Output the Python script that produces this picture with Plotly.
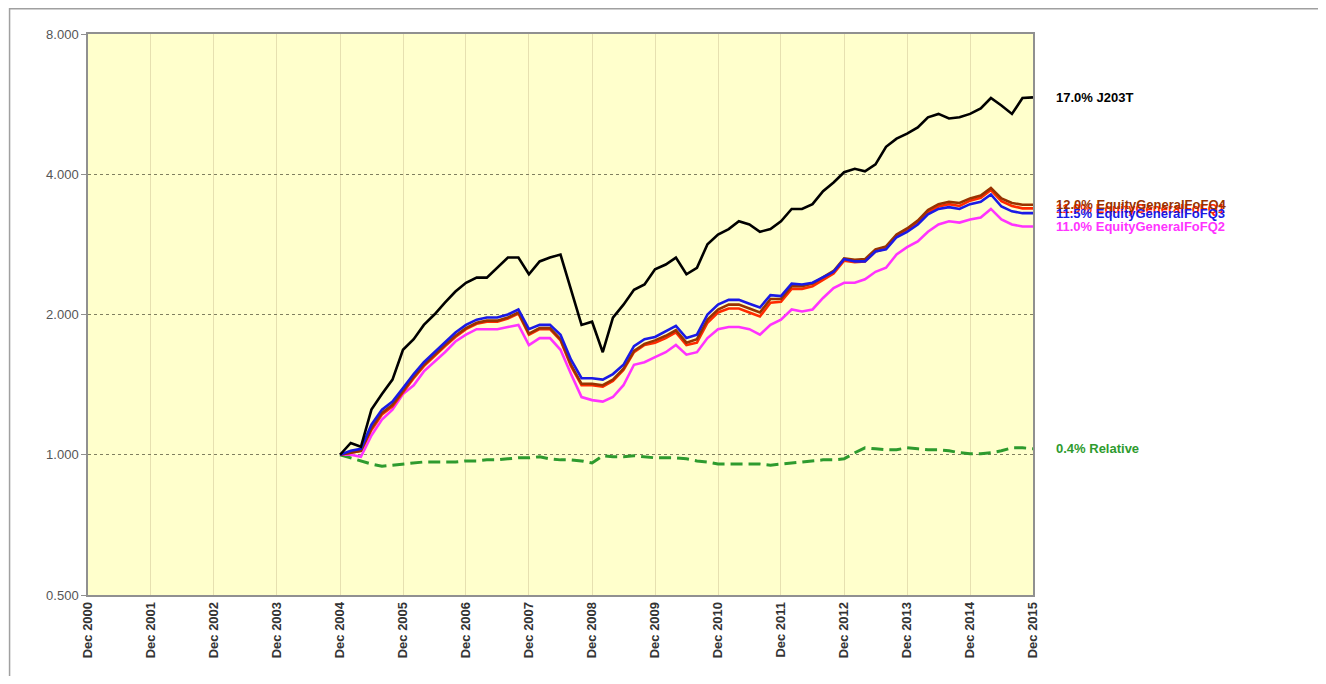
import math

import plotly.graph_objects as go

# Datas (bimestrais, Dez/2004 a Dez/2015)
datas = [f"{2004 + (11 + 2 * i) // 12}-{(11 + 2 * i) % 12 + 1:02d}-01" for i in range(67)]

j203t = [1.00, 1.06, 1.04, 1.25, 1.35, 1.45, 1.68, 1.77, 1.90, 2.00, 2.12, 2.24,
         2.34, 2.40, 2.40, 2.52, 2.65, 2.65, 2.44, 2.60, 2.65, 2.69, 2.26, 1.90,
         1.93, 1.66, 1.97, 2.10, 2.26, 2.32, 2.50, 2.56, 2.65, 2.44, 2.52, 2.83,
         2.97, 3.05, 3.17, 3.12, 3.01, 3.05, 3.17, 3.37, 3.37, 3.45, 3.68, 3.84,
         4.04, 4.11, 4.06, 4.20, 4.58, 4.77, 4.89, 5.04, 5.30, 5.39, 5.27, 5.30,
         5.39, 5.54, 5.83, 5.62, 5.39, 5.83, 5.85]

fof_q3 = [1.00, 1.02, 1.03, 1.16, 1.25, 1.30, 1.39, 1.49, 1.58, 1.66, 1.75, 1.83,
          1.90, 1.95, 1.97, 1.97, 2.00, 2.05, 1.86, 1.90, 1.90, 1.81, 1.60, 1.46,
          1.46, 1.45, 1.49, 1.56, 1.71, 1.77, 1.79, 1.84, 1.89, 1.78, 1.81, 2.00,
          2.10, 2.15, 2.15, 2.11, 2.07, 2.20, 2.19, 2.33, 2.32, 2.34, 2.40, 2.47,
          2.63, 2.60, 2.60, 2.73, 2.76, 2.93, 3.01, 3.12, 3.28, 3.37, 3.40, 3.37,
          3.45, 3.49, 3.62, 3.41, 3.33, 3.30, 3.30]

fof_q2 = [1.00, 1.00, 0.99, 1.10, 1.19, 1.25, 1.35, 1.41, 1.51, 1.58, 1.66, 1.75,
          1.81, 1.86, 1.86, 1.86, 1.88, 1.90, 1.72, 1.78, 1.78, 1.68, 1.49, 1.33,
          1.31, 1.30, 1.33, 1.41, 1.56, 1.58, 1.62, 1.66, 1.72, 1.64, 1.66, 1.78,
          1.86, 1.88, 1.88, 1.86, 1.81, 1.90, 1.95, 2.05, 2.03, 2.05, 2.17, 2.28,
          2.34, 2.34, 2.38, 2.47, 2.52, 2.69, 2.79, 2.87, 3.01, 3.12, 3.17, 3.15,
          3.20, 3.23, 3.37, 3.20, 3.12, 3.09, 3.09]

fof_q1 = [1.00, 1.01, 1.02, 1.13, 1.22, 1.27, 1.36, 1.46, 1.55, 1.63, 1.71, 1.79,
          1.86, 1.91, 1.93, 1.93, 1.96, 2.01, 1.81, 1.86, 1.86, 1.76, 1.55, 1.41,
          1.41, 1.40, 1.44, 1.52, 1.66, 1.72, 1.74, 1.78, 1.83, 1.72, 1.74, 1.92,
          2.02, 2.06, 2.06, 2.02, 1.98, 2.12, 2.13, 2.27, 2.27, 2.30, 2.37, 2.45,
          2.61, 2.59, 2.60, 2.73, 2.77, 2.95, 3.03, 3.15, 3.31, 3.41, 3.45, 3.42,
          3.51, 3.56, 3.70, 3.50, 3.42, 3.38, 3.38]

fof_q4 = [1.00, 1.01, 1.02, 1.14, 1.23, 1.28, 1.37, 1.47, 1.56, 1.64, 1.72, 1.80,
          1.87, 1.92, 1.94, 1.94, 1.97, 2.02, 1.82, 1.87, 1.87, 1.77, 1.56, 1.42,
          1.42, 1.41, 1.45, 1.53, 1.67, 1.73, 1.76, 1.80, 1.85, 1.74, 1.77, 1.95,
          2.05, 2.10, 2.10, 2.06, 2.02, 2.16, 2.16, 2.30, 2.30, 2.33, 2.40, 2.48,
          2.64, 2.62, 2.63, 2.76, 2.80, 2.97, 3.06, 3.18, 3.35, 3.45, 3.49, 3.47,
          3.55, 3.60, 3.74, 3.55, 3.47, 3.44, 3.44]

relativo = [1.00, 0.985, 0.97, 0.955, 0.945, 0.95, 0.955, 0.96, 0.965, 0.965, 0.965, 0.965,
            0.97, 0.97, 0.975, 0.975, 0.98, 0.985, 0.985, 0.99, 0.98, 0.975, 0.975, 0.97,
            0.96, 0.995, 0.99, 0.99, 0.995, 0.99, 0.985, 0.985, 0.985, 0.98, 0.97, 0.965,
            0.955, 0.955, 0.955, 0.955, 0.955, 0.95, 0.955, 0.96, 0.965, 0.97, 0.975, 0.975,
            0.98, 1.01, 1.035, 1.03, 1.025, 1.025, 1.035, 1.03, 1.025, 1.025, 1.02, 1.01,
            1.005, 1.005, 1.01, 1.02, 1.035, 1.035, 1.03]

# Eixos
anos = list(range(2000, 2016))
ticks_x = [f"{a}-12-01" for a in anos]
rotulos_x = [f"Dec {a}" for a in anos]
ticks_y = [0.5, 1, 2, 4, 8]
rotulos_y = ["0.500", "1.000", "2.000", "4.000", "8.000"]

# (nome, retorno anual, dados, cor, traço)
series = [
    ("Relative", "0.4%", relativo, "#2E9B2E", "12px,6px"),
    ("EquityGeneralFoFQ2", "11.0%", fof_q2, "#FF33FF", "solid"),
    ("EquityGeneralFoFQ1", "11.9%", fof_q1, "#FF2A00", "solid"),
    ("EquityGeneralFoFQ4", "12.0%", fof_q4, "#993300", "solid"),
    ("EquityGeneralFoFQ3", "11.5%", fof_q3, "#1A1AE6", "solid"),
    ("J203T", "17.0%", j203t, "#000000", "solid"),
]

FONTE = "Liberation Sans, Arial, sans-serif"

fig = go.Figure()

for nome, ret, dados, cor, traco in series:
    fig.add_trace(go.Scatter(
        x=datas, y=dados,
        mode="lines",
        name=nome,
        line=dict(color=cor, width=3 if traco != "solid" else 2.6, dash=traco),
        showlegend=False,
    ))
    fig.add_annotation(
        x=1.022, xref="paper", xanchor="left",
        y=math.log10(dados[-1]), yref="y", yanchor="middle",
        text=f"<b>{ret} {nome}</b>",
        showarrow=False,
        font=dict(family=FONTE, size=13, color=cor),
    )

# Linha de referência em 1.000
fig.add_shape(type="line", xref="paper", x0=0, x1=1, yref="y", y0=0, y1=0,
              line=dict(color="#707060", width=1.2), layer="below")

# Moldura externa
fig.add_shape(type="rect", xref="paper", yref="paper",
              x0=-0.083, x1=1.6, y0=-0.5, y1=1.045,
              line=dict(color="#A0A0A0", width=1.5))

fig.update_layout(
    width=1310, height=668,
    margin=dict(l=80, r=285, t=26, b=81),
    paper_bgcolor="white",
    plot_bgcolor="#FFFFCC",
    xaxis=dict(
        type="date",
        range=[ticks_x[0], ticks_x[-1]],
        tickvals=ticks_x, ticktext=rotulos_x,
        tickangle=-90,
        tickfont=dict(family=FONTE, size=13, color="#333333", weight="bold"),
        showgrid=True, gridcolor="#E6E0B0", gridwidth=1,
        showline=True, linecolor="#909090", linewidth=1.5, mirror=True,
        ticks="", zeroline=False,
    ),
    yaxis=dict(
        type="log",
        range=[math.log10(0.5), math.log10(8)],
        tickvals=ticks_y, ticktext=rotulos_y,
        tickfont=dict(family=FONTE, size=13, color="#555555"),
        showgrid=True, gridcolor="#808060", gridwidth=1, griddash="dot",
        showline=True, linecolor="#909090", linewidth=1.5, mirror=True,
        ticks="outside", ticklen=5, tickcolor="#909090",
        zeroline=False,
    ),
)

fig.write_html("out.html")
